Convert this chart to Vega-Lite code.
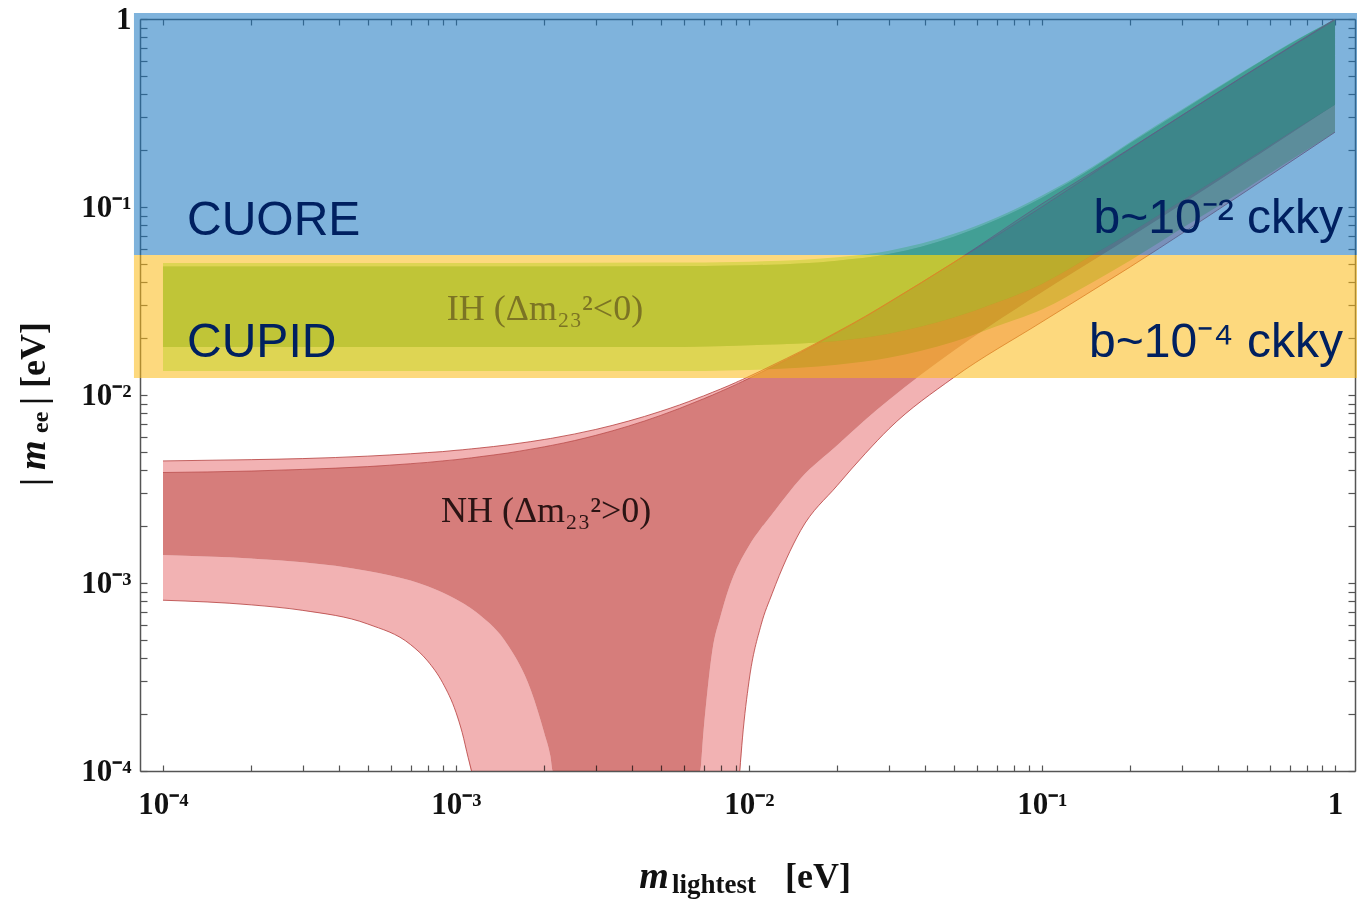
{
  "$schema": "https://vega.github.io/schema/vega-lite/v6.json",
  "width": 1215,
  "height": 752,
  "autosize": {"type": "none"},
  "padding": {"left": 140, "top": 19, "right": 2, "bottom": 128},
  "background": "white",
  "config": {"view": {"stroke": null}},
  "resolve": {"axis": {"x": "independent", "y": "independent"}},
  "datasets": {
    "ih": [
      {"x": 0.0001, "hiL": 0.0504, "hiD": 0.0482, "loD": 0.0180, "loL": 0.0134},
      {"x": 0.001, "hiL": 0.0504, "hiD": 0.0482, "loD": 0.0180, "loL": 0.0134},
      {"x": 0.005, "hiL": 0.0506, "hiD": 0.0484, "loD": 0.0180, "loL": 0.0134},
      {"x": 0.01, "hiL": 0.0512, "hiD": 0.0490, "loD": 0.0184, "loL": 0.0136},
      {"x": 0.02, "hiL": 0.0540, "hiD": 0.0518, "loD": 0.0194, "loL": 0.0145},
      {"x": 0.03, "hiL": 0.0585, "hiD": 0.0562, "loD": 0.0212, "loL": 0.0158},
      {"x": 0.05, "hiL": 0.0720, "hiD": 0.0695, "loD": 0.0258, "loL": 0.0192},
      {"x": 0.07, "hiL": 0.0880, "hiD": 0.0855, "loD": 0.0310, "loL": 0.0232},
      {"x": 0.1, "hiL": 0.115, "hiD": 0.112, "loD": 0.0390, "loL": 0.0285},
      {"x": 0.15, "hiL": 0.165, "hiD": 0.162, "loD": 0.056, "loL": 0.040},
      {"x": 0.2, "hiL": 0.222, "hiD": 0.218, "loD": 0.073, "loL": 0.052},
      {"x": 0.3, "hiL": 0.33, "hiD": 0.325, "loD": 0.108, "loL": 0.077},
      {"x": 0.5, "hiL": 0.54, "hiD": 0.535, "loD": 0.178, "loL": 0.126},
      {"x": 0.7, "hiL": 0.74, "hiD": 0.735, "loD": 0.248, "loL": 0.176},
      {"x": 1, "hiL": 1.0, "hiD": 0.995, "loD": 0.35, "loL": 0.25}
    ],
    "nh": [
      {"x": 0.0001, "hiL": 0.00446, "hiD": 0.00387, "loD": 0.00141, "loL": 0.00081},
      {"x": 0.0002, "hiL": 0.00453, "hiD": 0.00394, "loD": 0.00135, "loL": 0.000765},
      {"x": 0.0003, "hiL": 0.00459, "hiD": 0.00402, "loD": 0.00129, "loL": 0.000715},
      {"x": 0.0005, "hiL": 0.00473, "hiD": 0.00416, "loD": 0.00116, "loL": 0.000605},
      {"x": 0.0007, "hiL": 0.00487, "hiD": 0.00431, "loD": 0.00103, "loL": 0.00047},
      {"x": 0.0008, "hiL": 0.00494, "hiD": 0.00438, "loD": 0.00096, "loL": 0.000385},
      {"x": 0.0009, "hiL": 0.0050, "hiD": 0.00446, "loD": 0.00089, "loL": 0.000295},
      {"x": 0.001, "hiL": 0.00508, "hiD": 0.00453, "loD": 0.00082, "loL": 0.000205},
      {"x": 0.00105, "hiL": 0.00511, "hiD": 0.00457, "loD": 0.000785, "loL": 0.00016},
      {"x": 0.0011, "hiL": 0.00515, "hiD": 0.00461, "loD": 0.00075, "loL": 0.000118},
      {"x": 0.00113, "hiL": 0.00517, "hiD": 0.00463, "loD": 0.00073, "loL": 0.0001},
      {"x": 0.0012, "hiL": 0.00522, "hiD": 0.00469, "loD": 0.00068, "loL": 0.0001},
      {"x": 0.0015, "hiL": 0.00543, "hiD": 0.00491, "loD": 0.00047, "loL": 0.0001},
      {"x": 0.0018, "hiL": 0.00565, "hiD": 0.00515, "loD": 0.00027, "loL": 0.0001},
      {"x": 0.002, "hiL": 0.0058, "hiD": 0.0053, "loD": 0.00016, "loL": 0.0001},
      {"x": 0.0021, "hiL": 0.00587, "hiD": 0.00538, "loD": 0.00012, "loL": 0.0001},
      {"x": 0.00214, "hiL": 0.0059, "hiD": 0.00541, "loD": 0.0001, "loL": 0.0001},
      {"x": 0.003, "hiL": 0.00656, "hiD": 0.0061, "loD": 0.0001, "loL": 0.0001},
      {"x": 0.005, "hiL": 0.00819, "hiD": 0.00779, "loD": 0.0001, "loL": 0.0001},
      {"x": 0.0067, "hiL": 0.00964, "hiD": 0.00929, "loD": 0.0001, "loL": 0.0001},
      {"x": 0.0068, "hiL": 0.00973, "hiD": 0.00938, "loD": 0.0001, "loL": 0.0001},
      {"x": 0.007, "hiL": 0.00989, "hiD": 0.00955, "loD": 0.000165, "loL": 0.0001},
      {"x": 0.0075, "hiL": 0.01033, "hiD": 0.00999, "loD": 0.00044, "loL": 0.0001},
      {"x": 0.008, "hiL": 0.01076, "hiD": 0.01044, "loD": 0.00067, "loL": 0.0001},
      {"x": 0.009, "hiL": 0.01164, "hiD": 0.01134, "loD": 0.00116, "loL": 0.0001},
      {"x": 0.0092, "hiL": 0.01183, "hiD": 0.01153, "loD": 0.001245, "loL": 0.0001},
      {"x": 0.0093, "hiL": 0.01192, "hiD": 0.01162, "loD": 0.00129, "loL": 0.0001},
      {"x": 0.0095, "hiL": 0.01209, "hiD": 0.0118, "loD": 0.001375, "loL": 0.00015},
      {"x": 0.01, "hiL": 0.01255, "hiD": 0.01226, "loD": 0.00158, "loL": 0.0003},
      {"x": 0.011, "hiL": 0.01346, "hiD": 0.01319, "loD": 0.00196, "loL": 0.0006},
      {"x": 0.012, "hiL": 0.01438, "hiD": 0.01412, "loD": 0.00233, "loL": 0.00088},
      {"x": 0.015, "hiL": 0.01706, "hiD": 0.01683, "loD": 0.0036, "loL": 0.0019},
      {"x": 0.02, "hiL": 0.02167, "hiD": 0.02148, "loD": 0.0054, "loL": 0.0033},
      {"x": 0.025, "hiL": 0.02627, "hiD": 0.02611, "loD": 0.0074, "loL": 0.0049},
      {"x": 0.03, "hiL": 0.03112, "hiD": 0.03098, "loD": 0.0094, "loL": 0.0066},
      {"x": 0.05, "hiL": 0.0508, "hiD": 0.05068, "loD": 0.0172, "loL": 0.0124},
      {"x": 0.1, "hiL": 0.104, "hiD": 0.1003, "loD": 0.0352, "loL": 0.0245},
      {"x": 0.2, "hiL": 0.205, "hiD": 0.204, "loD": 0.069, "loL": 0.048},
      {"x": 0.5, "hiL": 0.51, "hiD": 0.508, "loD": 0.173, "loL": 0.122},
      {"x": 1, "hiL": 1.0, "hiD": 0.99, "loD": 0.35, "loL": 0.25}
    ]
  },
  "layer": [
    {
      "data": {"name": "ih"},
      "mark": {"type": "area", "color": "#BBF5A0", "interpolate": "monotone"},
      "encoding": {
        "x": {"field": "x", "type": "quantitative", "scale": {"type": "log", "domain": [0.00008347, 1.17], "nice": false},
          "axis": {"orient": "bottom", "title": null, "grid": false,
            "values": [0.0001,0.0002,0.0003,0.0004,0.0005,0.0006,0.0007,0.0008,0.0009,0.001,0.002,0.003,0.004,0.005,0.006,0.007,0.008,0.009,0.01,0.02,0.03,0.04,0.05,0.06,0.07,0.08,0.09,0.1,0.2,0.3,0.4,0.5,0.6,0.7,0.8,0.9,1],
            "labelExpr": "datum.value == 1 ? '1' : datum.value == 0.1 ? '10⁻¹' : datum.value == 0.01 ? '10⁻²' : datum.value == 0.001 ? '10⁻³' : datum.value == 0.0001 ? '10⁻⁴' : ''",
            "labelFont": "Liberation Serif", "labelFontWeight": "bold", "labelFontSize": 31, "labelColor": "#111111",
            "labelPadding": 24, "labelFlush": false, "labelOverlap": false, "labelBound": false,
            "tickSize": -6, "tickColor": "#555555", "tickWidth": 1.2, "domainColor": "#555555", "domainWidth": 1.5}},
        "y": {"field": "hiL", "type": "quantitative", "scale": {"type": "log", "domain": [0.0001, 1], "nice": false},
          "axis": {"orient": "left", "title": null, "grid": false,
            "values": [0.0001,0.0002,0.0003,0.0004,0.0005,0.0006,0.0007,0.0008,0.0009,0.001,0.002,0.003,0.004,0.005,0.006,0.007,0.008,0.009,0.01,0.02,0.03,0.04,0.05,0.06,0.07,0.08,0.09,0.1,0.2,0.3,0.4,0.5,0.6,0.7,0.8,0.9,1],
            "labelExpr": "datum.value == 1 ? '1' : datum.value == 0.1 ? '10⁻¹' : datum.value == 0.01 ? '10⁻²' : datum.value == 0.001 ? '10⁻³' : datum.value == 0.0001 ? '10⁻⁴' : ''",
            "labelFont": "Liberation Serif", "labelFontWeight": "bold", "labelFontSize": 31, "labelColor": "#111111",
            "labelPadding": 16, "labelFlush": false, "labelOverlap": false, "labelBound": false,
            "tickSize": -7, "tickColor": "#555555", "tickWidth": 1.2, "domainColor": "#555555", "domainWidth": 1.5}},
        "y2": {"field": "loL"}
      }
    },
    {
      "data": {"name": "ih"},
      "mark": {"type": "area", "color": "#78D262", "interpolate": "monotone"},
      "encoding": {
        "x": {"field": "x", "type": "quantitative", "scale": {"type": "log", "domain": [0.00008347, 1.17], "nice": false},
          "axis": {"orient": "top", "title": null, "grid": false, "labels": false,
            "values": [0.0001,0.0002,0.0003,0.0004,0.0005,0.0006,0.0007,0.0008,0.0009,0.001,0.002,0.003,0.004,0.005,0.006,0.007,0.008,0.009,0.01,0.02,0.03,0.04,0.05,0.06,0.07,0.08,0.09,0.1,0.2,0.3,0.4,0.5,0.6,0.7,0.8,0.9,1],
            "tickSize": -6, "tickColor": "#555555", "tickWidth": 1.2, "domainColor": "#555555", "domainWidth": 1.5}},
        "y": {"field": "hiD", "type": "quantitative", "scale": {"type": "log", "domain": [0.0001, 1], "nice": false},
          "axis": {"orient": "right", "title": null, "grid": false, "labels": false,
            "values": [0.0001,0.0002,0.0003,0.0004,0.0005,0.0006,0.0007,0.0008,0.0009,0.001,0.002,0.003,0.004,0.005,0.006,0.007,0.008,0.009,0.01,0.02,0.03,0.04,0.05,0.06,0.07,0.08,0.09,0.1,0.2,0.3,0.4,0.5,0.6,0.7,0.8,0.9,1],
            "tickSize": -7, "tickColor": "#555555", "tickWidth": 1.2, "domainColor": "#555555", "domainWidth": 1.5}},
        "y2": {"field": "loD"}
      }
    },
    {
      "data": {"name": "nh"},
      "mark": {"type": "area", "color": "#F2B2B3", "interpolate": "monotone", "blend": "multiply"},
      "encoding": {
        "x": {"field": "x", "type": "quantitative", "scale": {"type": "log", "domain": [0.00008347, 1.17], "nice": false}, "axis": null},
        "y": {"field": "hiL", "type": "quantitative", "scale": {"type": "log", "domain": [0.0001, 1], "nice": false}, "axis": null},
        "y2": {"field": "hiD"}
      }
    },
    {
      "data": {"name": "nh"},
      "mark": {"type": "area", "color": "#F2B2B3", "interpolate": "monotone", "blend": "multiply"},
      "encoding": {
        "x": {"field": "x", "type": "quantitative", "scale": {"type": "log", "domain": [0.00008347, 1.17], "nice": false}, "axis": null},
        "y": {"field": "loD", "type": "quantitative", "scale": {"type": "log", "domain": [0.0001, 1], "nice": false}, "axis": null},
        "y2": {"field": "loL"}
      }
    },
    {
      "data": {"name": "nh"},
      "mark": {"type": "area", "color": "#D67D7B", "interpolate": "monotone", "blend": "multiply"},
      "encoding": {
        "x": {"field": "x", "type": "quantitative", "scale": {"type": "log", "domain": [0.00008347, 1.17], "nice": false}, "axis": null},
        "y": {"field": "hiD", "type": "quantitative", "scale": {"type": "log", "domain": [0.0001, 1], "nice": false}, "axis": null},
        "y2": {"field": "loD"}
      }
    },
    {
      "data": {"name": "ih"},
      "mark": {"type": "area", "color": "#78D262", "opacity": 0.5, "interpolate": "monotone"},
      "encoding": {
        "x": {"field": "x", "type": "quantitative", "scale": {"type": "log", "domain": [0.00008347, 1.17], "nice": false}, "axis": null},
        "y": {"field": "hiD", "type": "quantitative", "scale": {"type": "log", "domain": [0.0001, 1], "nice": false}, "axis": null},
        "y2": {"field": "loD"}
      }
    },
    {
      "data": {"name": "nh"},
      "mark": {"type": "line", "color": "#B5403F", "strokeWidth": 1, "opacity": 0.8, "clip": true, "interpolate": "monotone"},
      "encoding": {
        "x": {"field": "x", "type": "quantitative", "scale": {"type": "log", "domain": [0.00008347, 1.17], "nice": false}, "axis": null},
        "y": {"field": "hiL", "type": "quantitative", "scale": {"type": "log", "domain": [0.0001, 1], "nice": false}, "axis": null}
      }
    },
    {
      "data": {"name": "nh"},
      "mark": {"type": "line", "color": "#B5403F", "strokeWidth": 1, "opacity": 0.7, "clip": true, "interpolate": "monotone"},
      "encoding": {
        "x": {"field": "x", "type": "quantitative", "scale": {"type": "log", "domain": [0.00008347, 1.17], "nice": false}, "axis": null},
        "y": {"field": "hiD", "type": "quantitative", "scale": {"type": "log", "domain": [0.0001, 1], "nice": false}, "axis": null}
      }
    },
    {
      "data": {"name": "nh"},
      "transform": [{"filter": "datum.x <= 0.00113"}],
      "mark": {"type": "line", "color": "#B5403F", "strokeWidth": 1, "opacity": 0.8, "clip": true, "interpolate": "monotone"},
      "encoding": {
        "x": {"field": "x", "type": "quantitative", "scale": {"type": "log", "domain": [0.00008347, 1.17], "nice": false}, "axis": null},
        "y": {"field": "loL", "type": "quantitative", "scale": {"type": "log", "domain": [0.0001, 1], "nice": false}, "axis": null}
      }
    },
    {
      "data": {"name": "nh"},
      "transform": [{"filter": "datum.x >= 0.0093"}],
      "mark": {"type": "line", "color": "#B5403F", "strokeWidth": 1, "opacity": 0.8, "clip": true, "interpolate": "monotone"},
      "encoding": {
        "x": {"field": "x", "type": "quantitative", "scale": {"type": "log", "domain": [0.00008347, 1.17], "nice": false}, "axis": null},
        "y": {"field": "loL", "type": "quantitative", "scale": {"type": "log", "domain": [0.0001, 1], "nice": false}, "axis": null}
      }
    },
    {
      "data": {"values": [{}]},
      "mark": {"type": "text", "text": "NH (Δm₂₃²>0)", "font": "Liberation Serif", "fontSize": 36, "color": "#2B1414", "align": "center", "baseline": "alphabetic"},
      "encoding": {
        "x": {"datum": 0.00203, "type": "quantitative", "scale": {"type": "log", "domain": [0.00008347, 1.17], "nice": false}, "axis": null},
        "y": {"datum": 0.00211, "type": "quantitative", "scale": {"type": "log", "domain": [0.0001, 1], "nice": false}, "axis": null}
      }
    },
    {
      "data": {"values": [{}]},
      "mark": {"type": "rect", "color": "#1674BF", "opacity": 0.55, "clip": false},
      "encoding": {
        "x": {"datum": 0.0000796, "type": "quantitative", "scale": {"type": "log", "domain": [0.00008347, 1.17], "nice": false}, "axis": null},
        "x2": {"datum": 1.19},
        "y": {"datum": 0.0556, "type": "quantitative", "scale": {"type": "log", "domain": [0.0001, 1], "nice": false}, "axis": null},
        "y2": {"datum": 1.076}
      }
    },
    {
      "data": {"values": [{}]},
      "mark": {"type": "rect", "color": "#FBB914", "opacity": 0.55, "clip": false},
      "encoding": {
        "x": {"datum": 0.0000796, "type": "quantitative", "scale": {"type": "log", "domain": [0.00008347, 1.17], "nice": false}, "axis": null},
        "x2": {"datum": 1.19},
        "y": {"datum": 0.01231, "type": "quantitative", "scale": {"type": "log", "domain": [0.0001, 1], "nice": false}, "axis": null},
        "y2": {"datum": 0.0556}
      }
    },
    {
      "data": {"values": [{}]},
      "mark": {"type": "text", "text": "IH (Δm₂₃²<0)", "font": "Liberation Serif", "fontSize": 36, "color": "#7C7424", "align": "center", "baseline": "alphabetic"},
      "encoding": {
        "x": {"datum": 0.002012, "type": "quantitative", "scale": {"type": "log", "domain": [0.00008347, 1.17], "nice": false}, "axis": null},
        "y": {"datum": 0.02506, "type": "quantitative", "scale": {"type": "log", "domain": [0.0001, 1], "nice": false}, "axis": null}
      }
    },
    {
      "data": {"values": [{}]},
      "mark": {"type": "text", "text": "CUORE", "font": "Liberation Sans", "fontSize": 48, "color": "#002060", "align": "left", "baseline": "alphabetic"},
      "encoding": {
        "x": {"datum": 0.0001208, "type": "quantitative", "scale": {"type": "log", "domain": [0.00008347, 1.17], "nice": false}, "axis": null},
        "y": {"datum": 0.0710, "type": "quantitative", "scale": {"type": "log", "domain": [0.0001, 1], "nice": false}, "axis": null}
      }
    },
    {
      "data": {"values": [{}]},
      "mark": {"type": "text", "text": "CUPID", "font": "Liberation Sans", "fontSize": 48, "color": "#002060", "align": "left", "baseline": "alphabetic"},
      "encoding": {
        "x": {"datum": 0.0001208, "type": "quantitative", "scale": {"type": "log", "domain": [0.00008347, 1.17], "nice": false}, "axis": null},
        "y": {"datum": 0.01592, "type": "quantitative", "scale": {"type": "log", "domain": [0.0001, 1], "nice": false}, "axis": null}
      }
    },
    {
      "data": {"values": [{}]},
      "mark": {"type": "text", "text": "b~10⁻² ckky", "font": "Liberation Sans", "fontSize": 48, "color": "#002060", "align": "right", "baseline": "alphabetic"},
      "encoding": {
        "x": {"datum": 1.065, "type": "quantitative", "scale": {"type": "log", "domain": [0.00008347, 1.17], "nice": false}, "axis": null},
        "y": {"datum": 0.0727, "type": "quantitative", "scale": {"type": "log", "domain": [0.0001, 1], "nice": false}, "axis": null}
      }
    },
    {
      "data": {"values": [{}]},
      "mark": {"type": "text", "text": "b~10⁻⁴ ckky", "font": "Liberation Sans", "fontSize": 48, "color": "#002060", "align": "right", "baseline": "alphabetic"},
      "encoding": {
        "x": {"datum": 1.065, "type": "quantitative", "scale": {"type": "log", "domain": [0.00008347, 1.17], "nice": false}, "axis": null},
        "y": {"datum": 0.01592, "type": "quantitative", "scale": {"type": "log", "domain": [0.0001, 1], "nice": false}, "axis": null}
      }
    },
    {
      "data": {"values": [{}]},
      "mark": {"type": "text", "text": "m", "font": "Liberation Serif", "fontSize": 38, "fontWeight": "bold", "fontStyle": "italic", "color": "#111111", "align": "center", "baseline": "alphabetic", "clip": false},
      "encoding": {
        "x": {"datum": 0.00474, "type": "quantitative", "scale": {"type": "log", "domain": [0.00008347, 1.17], "nice": false}, "axis": null},
        "y": {"datum": 0.00002386, "type": "quantitative", "scale": {"type": "log", "domain": [0.0001, 1], "nice": false}, "axis": null}
      }
    },
    {
      "data": {"values": [{}]},
      "mark": {"type": "text", "text": "lightest", "font": "Liberation Serif", "fontSize": 27, "fontWeight": "bold", "color": "#111111", "align": "left", "baseline": "alphabetic", "clip": false},
      "encoding": {
        "x": {"datum": 0.00546, "type": "quantitative", "scale": {"type": "log", "domain": [0.00008347, 1.17], "nice": false}, "axis": null},
        "y": {"datum": 0.00002244, "type": "quantitative", "scale": {"type": "log", "domain": [0.0001, 1], "nice": false}, "axis": null}
      }
    },
    {
      "data": {"values": [{}]},
      "mark": {"type": "text", "text": "[eV]", "font": "Liberation Serif", "fontSize": 36, "fontWeight": "bold", "color": "#111111", "align": "left", "baseline": "alphabetic", "clip": false},
      "encoding": {
        "x": {"datum": 0.01327, "type": "quantitative", "scale": {"type": "log", "domain": [0.00008347, 1.17], "nice": false}, "axis": null},
        "y": {"datum": 0.00002386, "type": "quantitative", "scale": {"type": "log", "domain": [0.0001, 1], "nice": false}, "axis": null}
      }
    },
    {
      "data": {"values": [{}]},
      "mark": {"type": "text", "text": "|", "font": "Liberation Serif", "fontSize": 36, "fontWeight": "bold", "color": "#111111", "align": "left", "baseline": "alphabetic", "angle": 270, "clip": false},
      "encoding": {
        "x": {"datum": 0.00003957, "type": "quantitative", "scale": {"type": "log", "domain": [0.00008347, 1.17], "nice": false}, "axis": null},
        "y": {"datum": 0.00328, "type": "quantitative", "scale": {"type": "log", "domain": [0.0001, 1], "nice": false}, "axis": null}
      }
    },
    {
      "data": {"values": [{}]},
      "mark": {"type": "text", "text": "m", "font": "Liberation Serif", "fontSize": 38, "fontWeight": "bold", "fontStyle": "italic", "color": "#111111", "align": "left", "baseline": "alphabetic", "angle": 270, "clip": false},
      "encoding": {
        "x": {"datum": 0.00003957, "type": "quantitative", "scale": {"type": "log", "domain": [0.00008347, 1.17], "nice": false}, "axis": null},
        "y": {"datum": 0.00399, "type": "quantitative", "scale": {"type": "log", "domain": [0.0001, 1], "nice": false}, "axis": null}
      }
    },
    {
      "data": {"values": [{}]},
      "mark": {"type": "text", "text": "ee", "font": "Liberation Serif", "fontSize": 24, "fontWeight": "bold", "color": "#111111", "align": "left", "baseline": "alphabetic", "angle": 270, "clip": false},
      "encoding": {
        "x": {"datum": 0.0000405, "type": "quantitative", "scale": {"type": "log", "domain": [0.00008347, 1.17], "nice": false}, "axis": null},
        "y": {"datum": 0.00628, "type": "quantitative", "scale": {"type": "log", "domain": [0.0001, 1], "nice": false}, "axis": null}
      }
    },
    {
      "data": {"values": [{}]},
      "mark": {"type": "text", "text": "| [eV]", "font": "Liberation Serif", "fontSize": 36, "fontWeight": "bold", "color": "#111111", "align": "left", "baseline": "alphabetic", "angle": 270, "clip": false},
      "encoding": {
        "x": {"datum": 0.00003957, "type": "quantitative", "scale": {"type": "log", "domain": [0.00008347, 1.17], "nice": false}, "axis": null},
        "y": {"datum": 0.00885, "type": "quantitative", "scale": {"type": "log", "domain": [0.0001, 1], "nice": false}, "axis": null}
      }
    }
  ]
}
